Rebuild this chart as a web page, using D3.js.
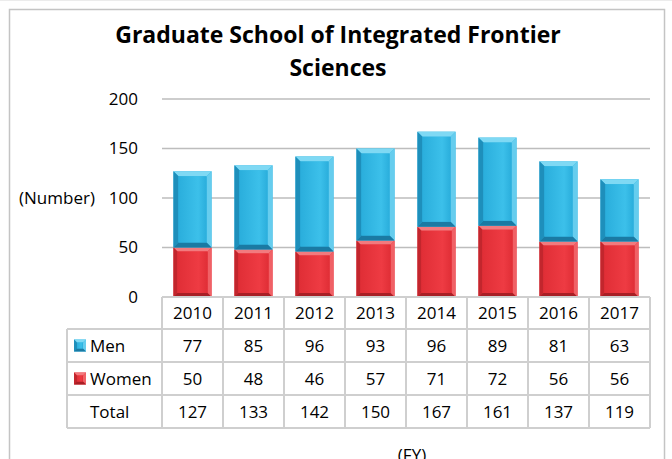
<!DOCTYPE html>
<html><head><meta charset="utf-8">
<script src="https://cdn.jsdelivr.net/npm/d3@7"></script>
<style>
html,body{margin:0;padding:0;background:#fff;}
svg{display:block;font-family:"Open Sans",Lato,sans-serif;}
</style></head>
<body>
<svg id="c" width="672" height="459"></svg>
<script>
const years = ["2010","2011","2012","2013","2014","2015","2016","2017"];
const men = [77,85,96,93,96,89,81,63];
const women = [50,48,46,57,71,72,56,56];
const totals = [127,133,142,150,167,161,137,119];
const yTicks = [0,50,100,150,200];
const titleLines = ["Graduate School of Integrated Frontier","Sciences"];

const FONT = "'Open Sans',Lato,sans-serif";
const FS = 17;
const svg = d3.select("#c");
const left = 162, right = 650, y0px = 297, ytop = 99;
const x = d3.scaleBand().domain(years).range([left,right]).padding(0);
const y = d3.scaleLinear().domain([0,200]).range([y0px,ytop]);

// outer frame
svg.append("rect").attr("x",9.5).attr("y",9.5).attr("width",655).attr("height",470)
  .attr("fill","none").attr("stroke","#c4c4c4").attr("stroke-width",1.5);
svg.append("line").attr("x1",0).attr("x2",672).attr("y1",0.5).attr("y2",0.5).attr("stroke","#ececec");

// title
svg.append("text").attr("x",338).attr("text-anchor","middle")
  .attr("font-weight","bold").attr("font-size",23).attr("fill","#000")
  .selectAll("tspan").data(titleLines).join("tspan")
  .attr("x",338).attr("y",(d,i)=>43+i*33).text(d=>d);

// gridlines
svg.append("g").selectAll("line").data(yTicks.filter(d=>d>0)).join("line")
  .attr("x1",left).attr("x2",right).attr("y1",d=>y(d)).attr("y2",d=>y(d))
  .attr("stroke","#bdbdbd").attr("stroke-width",1.5);

// y axis labels
const ax = svg.append("g").attr("transform",`translate(${left},0)`)
  .call(d3.axisLeft(y).tickValues(yTicks).tickSize(0).tickPadding(24));
ax.select(".domain").remove();
ax.selectAll("text").attr("font-size",FS).attr("fill","#000").attr("font-family",FONT);

svg.append("text").attr("x",57).attr("y",y(100)).attr("dy","0.35em")
  .attr("text-anchor","middle").attr("font-size",FS).text("(Number)");

// bars with bevel
const pal = {
  men:{base:"#2db3e1", top:"#7fd9f4", left:"#1e8fbb", right:"#66cdee", bottom:"#1a7aa3", inner:["#3cc0ea","#2aaedc"]},
  women:{base:"#e8313a", top:"#f27a7e", left:"#c2262d", right:"#f06166", bottom:"#a81f25", inner:["#ee3b43","#e02e36"]}
};
const defs = svg.append("defs");
for (const k of ["men","women"]) {
  const g = defs.append("linearGradient").attr("id","g_"+k).attr("x1","0").attr("x2","1").attr("y1","0").attr("y2","0");
  g.append("stop").attr("offset","0").attr("stop-color",pal[k].inner[1]);
  g.append("stop").attr("offset","0.7").attr("stop-color",pal[k].inner[0]);
  g.append("stop").attr("offset","1").attr("stop-color",pal[k].inner[1]);
}
function bevelBar(g, x0, w, yTop, yBot, k, b) {
  const p = pal[k];
  const x1 = x0 + w;
  g.append("rect").attr("x",x0).attr("y",yTop).attr("width",w).attr("height",yBot-yTop).attr("fill",p.base);
  const poly = (pts, fill) => g.append("polygon").attr("points",pts.map(q=>q.join(",")).join(" ")).attr("fill",fill);
  poly([[x0,yTop],[x1,yTop],[x1-b,yTop+b],[x0+b,yTop+b]], p.top);
  poly([[x0,yTop],[x0+b,yTop+b],[x0+b,yBot-b],[x0,yBot]], p.left);
  poly([[x1,yTop],[x1,yBot],[x1-b,yBot-b],[x1-b,yTop+b]], p.right);
  poly([[x0,yBot],[x0+b,yBot-b],[x1-b,yBot-b],[x1,yBot]], p.bottom);
  g.append("rect").attr("x",x0+b).attr("y",yTop+b).attr("width",w-2*b).attr("height",Math.max(0,yBot-yTop-2*b)).attr("fill",`url(#g_${k})`);
}
const barW = x.bandwidth()*0.625;
const bars = svg.append("g");
years.forEach((yr,i)=>{
  const bx = x(yr) + (x.bandwidth()-barW)/2;
  const g = bars.append("g");
  bevelBar(g, bx, barW, y(women[i]), y(0), "women", 4);
  bevelBar(g, bx, barW, y(women[i]+men[i]), y(women[i]), "men", 5);
});

// data table
const rowTops = [297, 329, 362, 395, 428];
const labelLeft = 67;
const tg = svg.append("g");
const lc = "#cfcfcf";
tg.append("line").attr("x1",left).attr("x2",right).attr("y1",rowTops[0]).attr("y2",rowTops[0]).attr("stroke",lc).attr("stroke-width",2);
rowTops.slice(1).forEach(ry=>{
  tg.append("line").attr("x1",labelLeft).attr("x2",right).attr("y1",ry).attr("y2",ry).attr("stroke",lc).attr("stroke-width",2);
});
tg.append("line").attr("x1",labelLeft).attr("x2",labelLeft).attr("y1",rowTops[1]).attr("y2",rowTops[4]).attr("stroke",lc).attr("stroke-width",2);
years.forEach(yr=>{
  tg.append("line").attr("x1",x(yr)).attr("x2",x(yr)).attr("y1",rowTops[0]).attr("y2",rowTops[4]).attr("stroke",lc).attr("stroke-width",2);
});
tg.append("line").attr("x1",right).attr("x2",right).attr("y1",rowTops[0]).attr("y2",rowTops[4]).attr("stroke",lc).attr("stroke-width",2);

const rows = [years, men, women, totals];
rows.forEach((vals,r)=>{
  tg.selectAll(null).data(vals).join("text")
    .attr("x",(d,i)=>x(years[i])+x.bandwidth()/2)
    .attr("y",(rowTops[r]+rowTops[r+1])/2).attr("dy","0.36em")
    .attr("text-anchor","middle").attr("font-size",FS).attr("fill","#000").text(d=>d);
});
const labels = [{t:"Men",k:"men"},{t:"Women",k:"women"},{t:"Total",k:null}];
labels.forEach((L,i)=>{
  const cy = (rowTops[i+1]+rowTops[i+2])/2;
  if (L.k) {
    const kg = tg.append("g");
    bevelBar(kg, 74, 12, cy-6, cy+6, L.k, 3);
  }
  tg.append("text").attr("x",90).attr("y",cy).attr("dy","0.36em").attr("font-size",FS).text(L.t);
});

// axis title
svg.append("text").attr("x",412).attr("y",461).attr("text-anchor","middle").attr("font-size",FS).text("(FY)");
</script>
</body></html>
